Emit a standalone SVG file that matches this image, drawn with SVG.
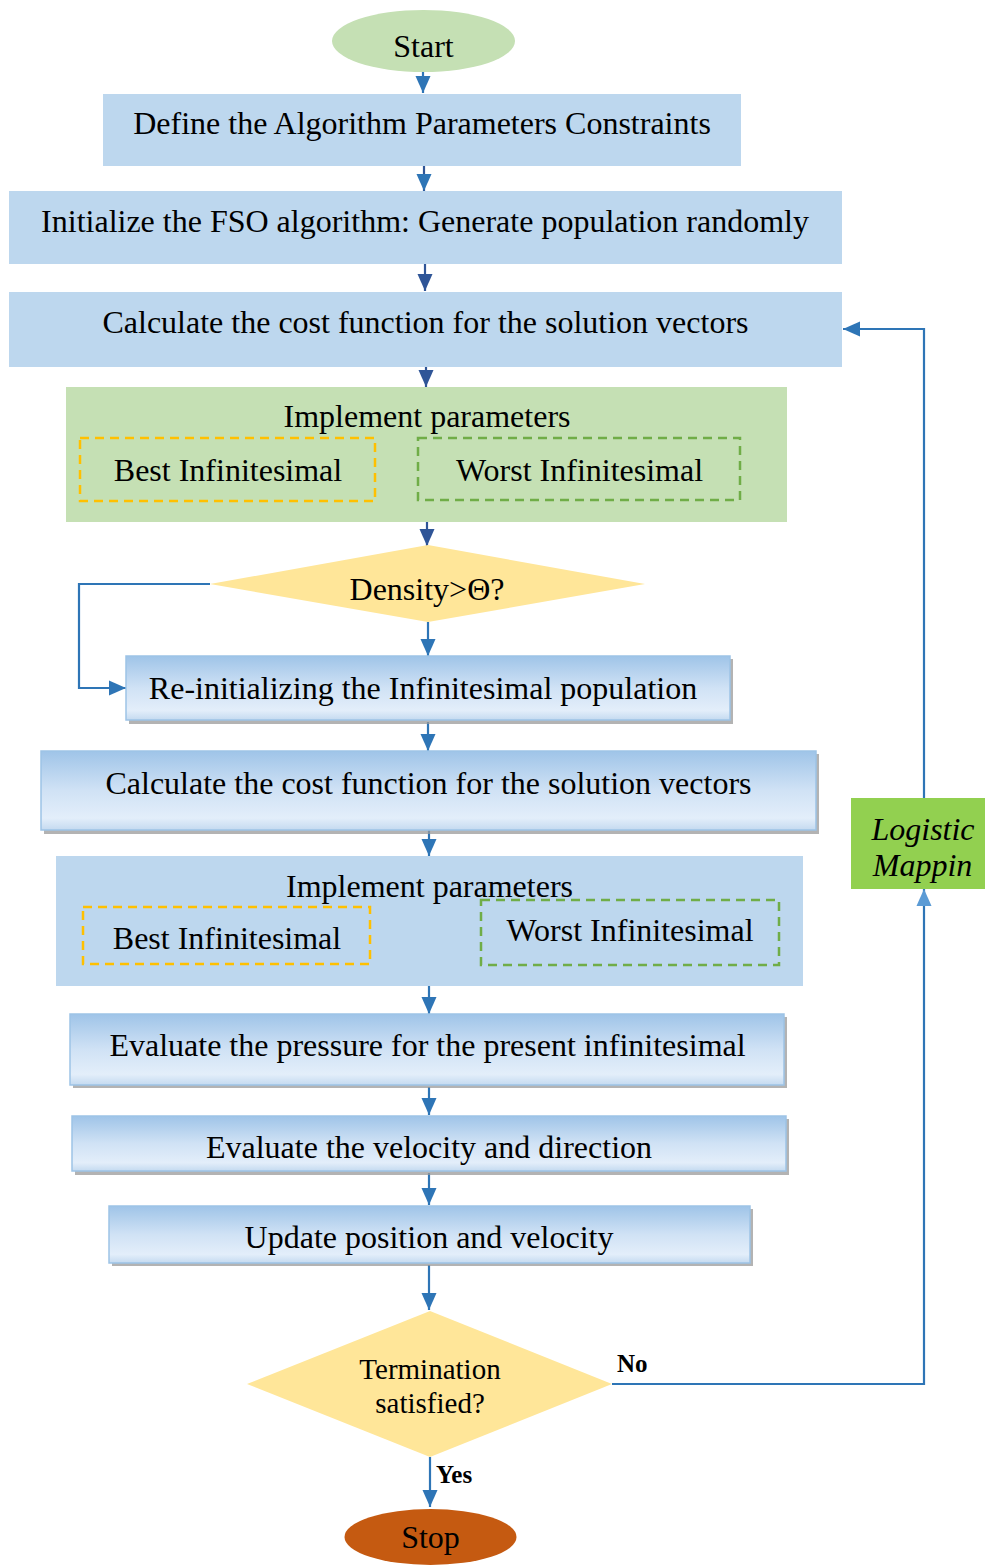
<svg xmlns="http://www.w3.org/2000/svg" width="985" height="1565" viewBox="0 0 985 1565">
<style>
text{font-family:"Liberation Serif","Times New Roman",serif;font-size:32px;fill:#000;text-anchor:middle}
.plain{fill:#bdd7ee}
.grad{fill:url(#g);stroke:#9dc3e6;stroke-width:1.5}
.shadow{fill:#9a9a9a;opacity:0.75}
.dy{fill:none;stroke:#ffc000;stroke-width:2.5;stroke-dasharray:9 6}
.dg{fill:none;stroke:#70ad47;stroke-width:2.5;stroke-dasharray:9 6}
.c{fill:none;stroke:#2e75b6;stroke-width:2.2}
.cn{fill:none;stroke:#2f5597;stroke-width:2.2}
.b{font-weight:bold;font-size:25px;text-anchor:start}
</style>
<defs>
<linearGradient id="g" x1="0" y1="0" x2="0" y2="1">
<stop offset="0" stop-color="#9fc4e8"/>
<stop offset="0.5" stop-color="#d0e2f5"/>
<stop offset="0.85" stop-color="#e3eefa"/>
<stop offset="1" stop-color="#c4daf0"/>
</linearGradient>
<marker id="a" markerUnits="userSpaceOnUse" markerWidth="18" markerHeight="18" refX="17" refY="9" orient="auto">
<path d="M0,1.5 L17,9 L0,16.5 Z" fill="#2e75b6"/>
</marker>
<marker id="an" markerUnits="userSpaceOnUse" markerWidth="18" markerHeight="18" refX="17" refY="9" orient="auto">
<path d="M0,1.5 L17,9 L0,16.5 Z" fill="#2f5597"/>
</marker>
<marker id="al" markerUnits="userSpaceOnUse" markerWidth="18" markerHeight="18" refX="17" refY="9" orient="auto">
<path d="M0,1.5 L17,9 L0,16.5 Z" fill="#5b9bd5"/>
</marker>
</defs>
<rect width="985" height="1565" fill="#fff"/>

<g id="connectors">
<line class="c" x1="423" y1="72" x2="423" y2="93" marker-end="url(#a)"/>
<line class="cn" x1="424" y1="166" x2="424" y2="191" marker-end="url(#a)"/>
<line class="cn" x1="425" y1="264" x2="425" y2="291" marker-end="url(#an)"/>
<line class="cn" x1="426" y1="367" x2="426" y2="387" marker-end="url(#an)"/>
<line class="cn" x1="427" y1="522" x2="427" y2="546" marker-end="url(#an)"/>
<line class="c" x1="428" y1="622" x2="428" y2="656" marker-end="url(#a)"/>
<polyline class="c" points="210,584 79,584 79,688 126,688" marker-end="url(#a)"/>
<line class="c" x1="428" y1="722" x2="428" y2="751" marker-end="url(#a)"/>
<line class="c" x1="429" y1="830" x2="429" y2="856" marker-end="url(#a)"/>
<line class="c" x1="429" y1="986" x2="429" y2="1014" marker-end="url(#a)"/>
<line class="c" x1="429" y1="1087" x2="429" y2="1115" marker-end="url(#a)"/>
<line class="c" x1="429" y1="1173" x2="429" y2="1205" marker-end="url(#a)"/>
<line class="c" x1="429" y1="1265" x2="429" y2="1310" marker-end="url(#a)"/>
<line class="c" x1="430" y1="1457" x2="430" y2="1507" marker-end="url(#a)"/>
<polyline class="c" points="612,1384 924,1384 924,889" marker-end="url(#al)"/>
<polyline class="c" points="924,798 924,329 843,329" marker-end="url(#a)"/>
<text class="b" x="617" y="1372">No</text>
<text class="b" x="436" y="1483">Yes</text>
</g>

<g id="start">
<ellipse cx="423.5" cy="41" rx="91.5" ry="31" fill="#c5e0b4"/>
<text x="423.5" y="57">Start</text>
</g>

<g id="define">
<rect class="plain" x="103" y="94" width="638" height="72"/>
<text x="422" y="134">Define the Algorithm Parameters Constraints</text>
</g>

<g id="initialize">
<rect class="plain" x="9" y="191" width="833" height="73"/>
<text x="425" y="232">Initialize the FSO algorithm: Generate population randomly</text>
</g>

<g id="calc1">
<rect class="plain" x="9" y="292" width="833" height="75"/>
<text x="425.5" y="333">Calculate the cost function for the solution vectors</text>
</g>

<g id="implement1">
<rect x="66" y="387" width="721" height="135" fill="#c5e0b4"/>
<text x="427" y="427">Implement parameters</text>
<rect class="dy" x="80" y="438" width="295" height="63"/>
<text x="228" y="481">Best Infinitesimal</text>
<rect class="dg" x="418" y="438" width="322" height="62"/>
<text x="579.5" y="481">Worst Infinitesimal</text>
</g>

<g id="density">
<polygon points="210,584 428,545 645,584 428,622" fill="#ffe699"/>
<text x="427" y="600">Density&gt;Θ?</text>
</g>

<g id="reinit">
<rect class="shadow" x="129" y="659" width="604" height="65"/>
<rect class="grad" x="126" y="656" width="604" height="64"/>
<text x="423" y="699">Re-initializing the Infinitesimal population</text>
</g>

<g id="calc2">
<rect class="shadow" x="44" y="754" width="775" height="80"/>
<rect class="grad" x="41" y="751" width="775" height="79"/>
<text x="428.5" y="794">Calculate the cost function for the solution vectors</text>
</g>

<g id="implement2">
<rect class="plain" x="56" y="856" width="747" height="130"/>
<text x="429.5" y="897">Implement parameters</text>
<rect class="dy" x="83" y="907" width="287" height="57"/>
<text x="227" y="949">Best Infinitesimal</text>
<rect class="dg" x="481" y="900" width="298" height="65"/>
<text x="630" y="941">Worst Infinitesimal</text>
</g>

<g id="pressure">
<rect class="shadow" x="73" y="1017" width="714" height="71"/>
<rect class="grad" x="70" y="1014" width="714" height="71"/>
<text x="427.5" y="1056">Evaluate the pressure for the present infinitesimal</text>
</g>

<g id="velocity">
<rect class="shadow" x="75" y="1119" width="714" height="56"/>
<rect class="grad" x="72" y="1116" width="714" height="55"/>
<text x="429" y="1158">Evaluate the velocity and direction</text>
</g>

<g id="update">
<rect class="shadow" x="112" y="1209" width="641" height="57"/>
<rect class="grad" x="109" y="1206" width="641" height="57"/>
<text x="429" y="1248">Update position and velocity</text>
</g>

<g id="termination">
<polygon points="247,1384 430,1311 612,1384 430,1457" fill="#ffe699"/>
<text x="430" y="1379" style="font-size:29px">Termination</text>
<text x="430" y="1413" style="font-size:29px">satisfied?</text>
</g>

<g id="logistic">
<rect x="851" y="798" width="134" height="91" fill="#92d050"/>
<text x="923" y="840" style="font-style:italic">Logistic</text>
<text x="922.5" y="876" style="font-style:italic">Mappin</text>
</g>

<g id="stop">
<ellipse cx="430.5" cy="1537" rx="86" ry="28" fill="#c55a11"/>
<text x="430.5" y="1548">Stop</text>
</g>
</svg>
